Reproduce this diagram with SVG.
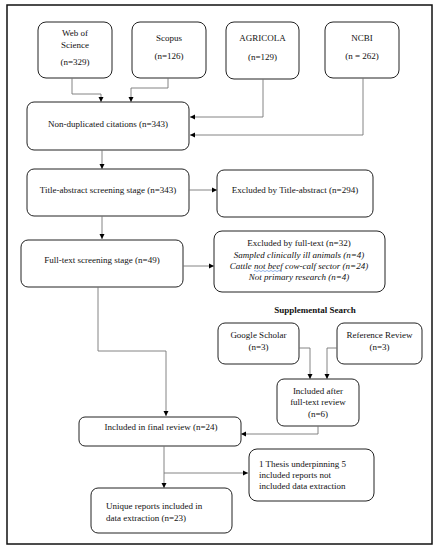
<svg xmlns="http://www.w3.org/2000/svg" width="437" height="550" viewBox="0 0 437 550">
<defs>
<marker id="ah" markerWidth="6" markerHeight="6" refX="5" refY="3" orient="auto" markerUnits="userSpaceOnUse">
<path d="M0,0.5 L5,3 L0,5.5 Z" fill="#000"/>
</marker>
<style>
.box{fill:#fff;stroke:#222;stroke-width:1}
.t{font-family:"Liberation Serif","Times New Roman",serif;font-size:9px;fill:#111}
.c{text-anchor:middle}
.i{font-style:italic}
.b{font-weight:bold}
.con path{fill:none;stroke:#777;stroke-width:0.9;marker-end:url(#ah)}
</style>
</defs>
<rect x="0" y="0" width="437" height="550" fill="#fff"/>
<rect x="7" y="5" width="425" height="539" fill="none" stroke="#111" stroke-width="1.5"/>

<g id="wos"><rect class="box" x="38" y="22" width="74" height="56" rx="8"/>
<text class="t c" x="75" y="36">Web of</text><text class="t c" x="75" y="48">Science</text><text class="t c" x="75" y="65">(n=329)</text></g>
<g id="scopus"><rect class="box" x="132" y="22" width="74" height="56" rx="8"/>
<text class="t c" x="169" y="41">Scopus</text><text class="t c" x="169" y="59">(n=126)</text></g>
<g id="agricola"><rect class="box" x="226" y="22" width="73" height="57" rx="8"/>
<text class="t c" x="262.5" y="41">AGRICOLA</text><text class="t c" x="262.5" y="60">(n=129)</text></g>
<g id="ncbi"><rect class="box" x="325" y="22" width="74" height="56" rx="8"/>
<text class="t c" x="362" y="41">NCBI</text><text class="t c" x="362" y="59">(n = 262)</text></g>

<g id="nondup"><rect class="box" x="27" y="102" width="162" height="48" rx="7"/>
<text class="t c" x="108" y="127">Non-duplicated citations (n=343)</text></g>
<g id="titleabs"><rect class="box" x="27" y="169" width="162" height="47" rx="7"/>
<text class="t c" x="108" y="193">Title-abstract screening stage (n=343)</text></g>
<g id="excl1"><rect class="box" x="217" y="170" width="156" height="47" rx="7"/>
<text class="t c" x="295" y="193">Excluded by Title-abstract (n=294)</text></g>
<g id="fulltext"><rect class="box" x="21" y="240" width="162" height="47" rx="7"/>
<text class="t c" x="102" y="263">Full-text screening stage (n=49)</text></g>
<g id="excl2"><rect class="box" x="214" y="231" width="171" height="61" rx="8"/>
<text class="t c" x="299" y="246">Excluded by full-text (n=32)</text>
<text class="t c i" x="299" y="258">Sampled clinically ill animals (n=4)</text>
<text class="t c" x="299" y="269"><tspan class="i">Cattle </tspan><tspan class="i">not beef</tspan><tspan class="i"> cow-calf sector (n=24)</tspan></text>
<path d="M254,271 q1,-1 2,0 t2,0 t2,0 t2,0 t2,0 t2,0 t2,0 t2,0 t2,0 t2,0 t2,0 t2,0 t2,0 t2,0" fill="none" stroke="#4a7fd4" stroke-width="0.6"/>
<text class="t c i" x="299" y="280">Not primary research (n=4)</text></g>

<text class="t c b" x="315" y="313">Supplemental Search</text>
<g id="gscholar"><rect class="box" x="218" y="323" width="81" height="41" rx="7"/>
<text class="t c" x="258.5" y="338">Google Scholar</text><text class="t c" x="258.5" y="350">(n=3)</text></g>
<g id="refrev"><rect class="box" x="337" y="323" width="85" height="41" rx="7"/>
<text class="t c" x="379.5" y="338">Reference Review</text><text class="t c" x="379.5" y="350">(n=3)</text></g>
<g id="inclafter"><rect class="box" x="277" y="379" width="82" height="47" rx="7"/>
<text class="t c" x="318" y="394">Included after</text><text class="t c" x="318" y="405">full-text review</text><text class="t c" x="318" y="417">(n=6)</text></g>
<g id="final"><rect class="box" x="79" y="417" width="162" height="29" rx="6"/>
<text class="t c" x="161" y="430">Included in final review (n=24)</text></g>
<g id="thesis"><rect class="box" x="249" y="449" width="125" height="52" rx="8"/>
<text class="t" x="259" y="467">1 Thesis underpinning 5</text><text class="t" x="259" y="478">included reports not</text><text class="t" x="259" y="489">included data extraction</text></g>
<g id="unique"><rect class="box" x="91" y="488" width="141" height="45" rx="7"/>
<text class="t" x="106" y="509">Unique reports included in</text><text class="t" x="106" y="521">data extraction (n=23)</text></g>

<g id="connectors" class="con">
<path d="M72,78 V94 H101 V102"/>
<path d="M168,78 V88 H131 V102"/>
<path d="M263,79 V117 H190"/>
<path d="M363,78 V135 H190"/>
<path d="M102,150 V169"/>
<path d="M189,190 H217"/>
<path d="M102,216 V239"/>
<path d="M183,266 H214"/>
<path d="M98,287 V351 H166 V416"/>
<path d="M299,348 H310 V379"/>
<path d="M337,348 H327 V379"/>
<path d="M318,426 V434 H241"/>
<path d="M164,446 V488"/>
<path d="M164,473 H248"/>
</g>
</svg>
